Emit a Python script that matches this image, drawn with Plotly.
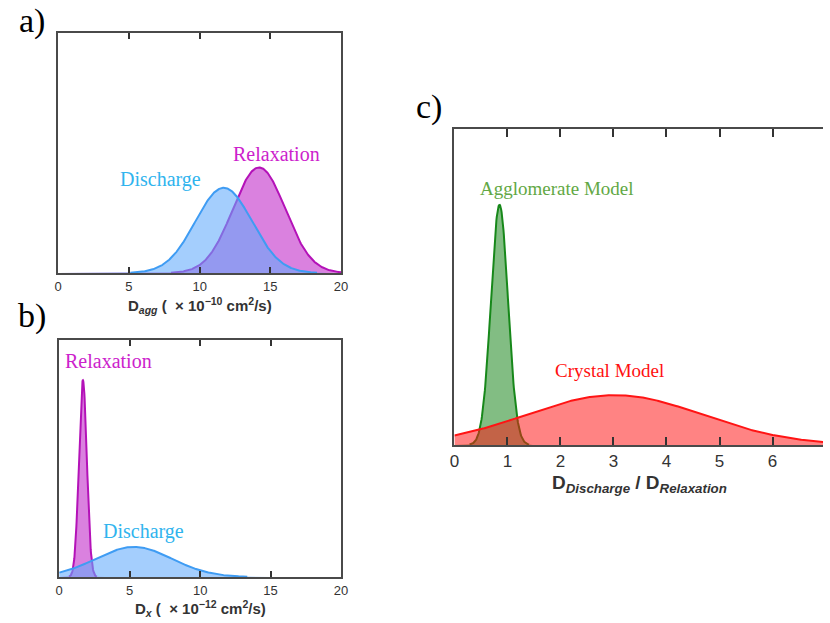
import numpy as np
import plotly.graph_objects as go

# Gaussian distribution parameters (mean, standard deviation, peak height in box fractions)
# Panel a: aggregate diffusivity D_agg (x 1e-10 cm^2/s)
a_names = ["Relaxation", "Discharge"]
a_means = [14.2, 11.7]
a_sigmas = [1.85, 2.0]
a_peaks = [0.44, 0.355]

# Panel b: crystal diffusivity D_x (x 1e-12 cm^2/s)
b_names = ["Relaxation", "Discharge"]
b_means = [1.68, 5.3]
b_sigmas = [0.28, 2.7]
b_peaks = [0.83, 0.127]

# Panel c: ratio D_Discharge / D_Relaxation
c_names = ["Agglomerate Model", "Crystal Model"]
c_means = [0.85, 3.02]
c_sigmas = [0.16, 1.66]
c_peaks = [0.76, 0.158]

ab_ticks = [0, 5, 10, 15, 20]
c_ticks = [0, 1, 2, 3, 4, 5, 6, 7]

LINE = {"Relaxation": "#b412b8", "Discharge": "#3f9cf3",
        "Agglomerate Model": "#17881a", "Crystal Model": "#ff1414"}
FILL = {"Relaxation": "rgba(192,38,200,0.58)", "Discharge": "rgba(98,170,252,0.58)",
        "Agglomerate Model": "rgba(28,135,30,0.55)", "Crystal Model": "rgba(255,18,18,0.52)"}
TEXT = {"Relaxation": "#cc22cc", "Discharge": "#30b4ee",
        "Agglomerate Model": "#62a844", "Crystal Model": "#ff1010"}

W, H = 830, 623


def px_x(p):
    return p / W


def px_y(p):
    return 1 - p / H


def gauss(x, m, s, h):
    return h * np.exp(-(x - m) ** 2 / (2 * s ** 2))


fig = go.Figure()


def add_curves(names, means, sigmas, peaks, xgrid, xa, ya):
    for n, m, s, h in zip(names, means, sigmas, peaks):
        y = gauss(xgrid, m, s, h)
        # filled area
        fig.add_trace(go.Scatter(
            x=xgrid, y=y, mode="lines", fill="tozeroy",
            line=dict(width=0, color=LINE[n]), fillcolor=FILL[n],
            xaxis=xa, yaxis=ya, showlegend=False, hoverinfo="skip"))
        # outline, left off where the curve sits on the baseline
        y_line = np.where(y > 0.0015, y, np.nan)
        fig.add_trace(go.Scatter(
            x=xgrid, y=y_line, mode="lines",
            line=dict(color=LINE[n], width=2),
            xaxis=xa, yaxis=ya, showlegend=False, hoverinfo="skip"))


add_curves(a_names, a_means, a_sigmas, a_peaks, np.linspace(0, 20, 600), "x", "y")
add_curves(b_names, b_means, b_sigmas, b_peaks, np.linspace(0, 20, 1200), "x2", "y2")
add_curves(c_names, c_means, c_sigmas, c_peaks, np.linspace(0, 7, 1000), "x3", "y3")

axis_col = "#4a4a4a"
tick_font_ab = dict(family="Liberation Sans, Arial", size=13, color="#333333")
tick_font_c = dict(family="Liberation Sans, Arial", size=17, color="#333333")

xa_common = dict(showline=True, linecolor=axis_col, linewidth=2, ticks="inside",
                 tickcolor="#333333", tickwidth=2, mirror="allticks", showgrid=False,
                 zeroline=False, ticklen=6)
ya_common = dict(showline=True, linecolor=axis_col, linewidth=2, showticklabels=False,
                 ticks="", showgrid=False, zeroline=False, range=[0, 1], fixedrange=True)

fig.update_layout(
    width=W, height=H, margin=dict(l=0, r=0, t=0, b=0),
    paper_bgcolor="white", plot_bgcolor="white",
    xaxis=dict(domain=[px_x(54), px_x(341)], range=[0, 20], tickvals=ab_ticks,
               tickfont=tick_font_ab, anchor="y", **xa_common),
    yaxis=dict(domain=[px_y(273), px_y(33)], anchor="x", mirror=True, **ya_common),
    xaxis2=dict(domain=[px_x(55), px_x(341)], range=[0, 20], tickvals=ab_ticks,
                tickfont=tick_font_ab, anchor="y2", **xa_common),
    yaxis2=dict(domain=[px_y(577), px_y(340)], anchor="x2", mirror=True, **ya_common),
    xaxis3=dict(domain=[px_x(456), 1.0], range=[0, (830 - 456) / 53.8], tickvals=c_ticks,
                tickfont=tick_font_c, anchor="y3", **{**xa_common, "ticklen": 8}),
    yaxis3=dict(domain=[px_y(445), px_y(129)], anchor="x3", mirror=False, **ya_common),
)

serif = "Liberation Serif, Times New Roman, serif"
sans = "Liberation Sans, Arial, sans-serif"

annotations = [
    # curve labels
    dict(x=7.25, y=0.39, xref="x", yref="y", text="Discharge", font=dict(color=TEXT["Discharge"], size=20, family=serif)),
    dict(x=15.4, y=0.496, xref="x", yref="y", text="Relaxation", font=dict(color=TEXT["Relaxation"], size=20, family=serif)),
    dict(x=3.5, y=0.91, xref="x2", yref="y2", text="Relaxation", font=dict(color=TEXT["Relaxation"], size=20, family=serif)),
    dict(x=5.96, y=0.19, xref="x2", yref="y2", text="Discharge", font=dict(color=TEXT["Discharge"], size=20, family=serif)),
    dict(x=1.93, y=0.813, xref="x3", yref="y3", text="Agglomerate Model", font=dict(color=TEXT["Agglomerate Model"], size=19, family=serif)),
    dict(x=2.92, y=0.237, xref="x3", yref="y3", text="Crystal Model", font=dict(color=TEXT["Crystal Model"], size=19, family=serif)),
    # panel letters
    dict(x=px_x(27), y=px_y(21), xref="paper", yref="paper", text="a)", font=dict(size=34, family=serif, color="black")),
    dict(x=px_x(27), y=px_y(316), xref="paper", yref="paper", text="b)", font=dict(size=34, family=serif, color="black")),
    dict(x=px_x(430), y=px_y(107), xref="paper", yref="paper", text="c)", font=dict(size=34, family=serif, color="black")),
    # axis titles
    dict(x=px_x(198), y=px_y(305), xref="paper", yref="paper",
         text="<b>D<sub><i>agg</i></sub> (  × 10<sup>−10</sup> cm<sup>2</sup>/s)</b>",
         font=dict(size=15, family=sans, color="#333333")),
    dict(x=px_x(198), y=px_y(608), xref="paper", yref="paper",
         text="<b>D<sub><i>x</i></sub> (  × 10<sup>−12</sup> cm<sup>2</sup>/s)</b>",
         font=dict(size=15, family=sans, color="#333333")),
    dict(x=px_x(644), y=px_y(484), xref="paper", yref="paper",
         text="<b>D<sub><i>Discharge</i></sub> / D<sub><i>Relaxation</i></sub></b>",
         font=dict(size=19, family=sans, color="#333333")),
]
for a in annotations:
    a.update(showarrow=False, xanchor="center", yanchor="middle")
fig.update_layout(annotations=annotations)

fig.write_html("out.html")
